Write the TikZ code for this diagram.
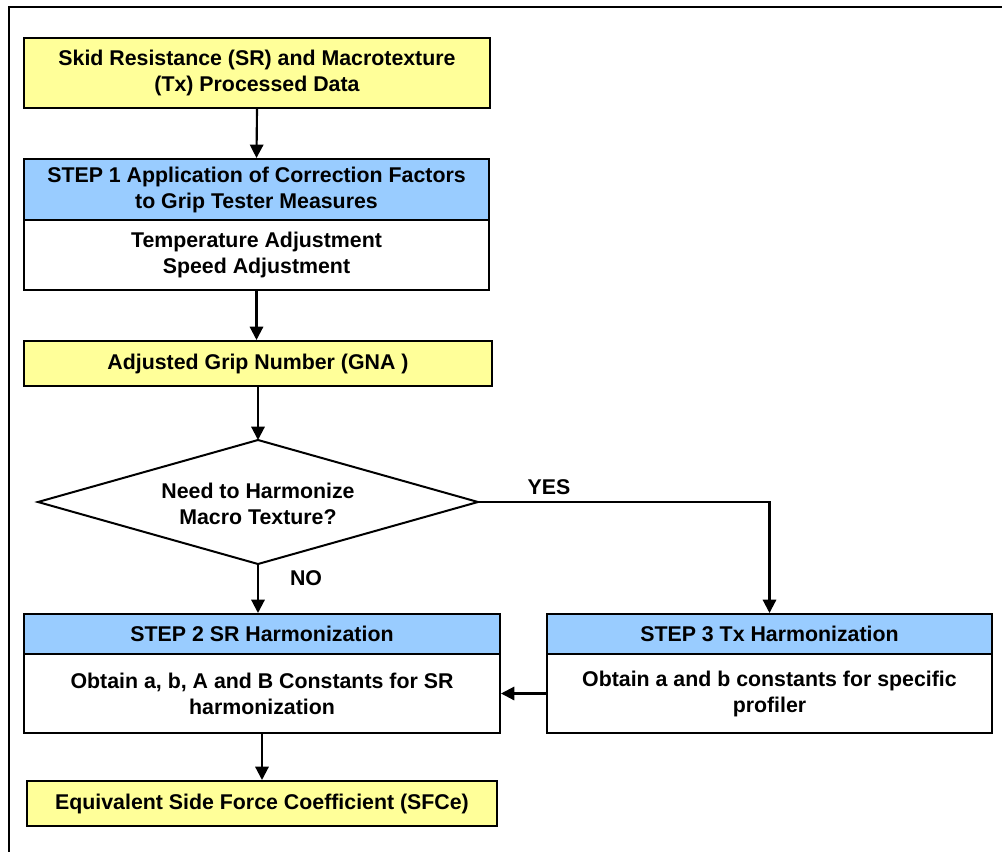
\documentclass[tikz,border=0pt]{standalone}
\usepackage{fontspec}
\setmainfont{Liberation Sans}
\usetikzlibrary{shapes.geometric,arrows.meta}
\definecolor{boxyellow}{HTML}{FFFF99}
\definecolor{boxblue}{HTML}{99CCFF}
\tikzset{
  txt/.style={font=\bfseries\fontsize{16pt}{19.5pt}\selectfont, align=center},
  yellowbox/.style={txt, draw=black, line width=1.5pt, fill=boxyellow, inner sep=0pt},
  headbox/.style={txt, draw=black, line width=1.5pt, fill=boxblue, inner sep=0pt},
  bodybox/.style={txt, draw=black, line width=1.5pt, fill=white, inner sep=0pt},
  decisionline/.style={draw=black, line width=1.5pt, fill=white, line join=miter},
  conn/.style={line width=1.6pt, -{Triangle[length=10pt,width=10pt]}},
  lbl/.style={txt, inner sep=0pt}
}
\begin{document}
\begin{tikzpicture}[x=0.75pt,y=-0.75pt]
\useasboundingbox (0,0) rectangle (1002,852);
\fill[white] (0,0) rectangle (1002,852);
% frame
\draw[line width=1.8pt] (9,853) -- (9,7) -- (1003,7);

\node[yellowbox, minimum width=349.5pt, minimum height=52.5pt] (top) at (257,73)
  {Skid Resistance (SR) and Macrotexture\\(Tx) Processed Data};

\node[headbox, minimum width=348.75pt, minimum height=45.75pt] (s1h) at (256.5,189.5)
  {STEP 1 Application of Correction Factors\\to Grip Tester Measures};
\node[bodybox, minimum width=348.75pt, minimum height=52.5pt] (s1b) at (256.5,255)
  {Temperature Adjustment\\Speed Adjustment};

\node[yellowbox, minimum width=351pt, minimum height=33.75pt] (gna) at (258,363.5)
  {Adjusted Grip Number (GNA )};

% decision diamond
\coordinate (dN) at (258,440);
\coordinate (dW) at (38,502);
\coordinate (dE) at (478,502);
\coordinate (dS) at (258,564);
\draw[decisionline] (dN) -- (dE) -- (dS) -- (dW) -- cycle;
\node[lbl] (dia) at (258,504) {Need to Harmonize\\Macro Texture?};

\node[headbox, minimum width=357pt, minimum height=30pt] (s2h) at (262,634)
  {STEP 2 SR Harmonization};
\node[bodybox, minimum width=357pt, minimum height=59.25pt] (s2b) at (262,693.5)
  {Obtain a, b, A and B Constants for SR\\harmonization};

\node[headbox, minimum width=333.75pt, minimum height=30pt] (s3h) at (769.5,634)
  {STEP 3 Tx Harmonization};
\node[bodybox, minimum width=333.75pt, minimum height=59.25pt] (s3b) at (769.5,693.5)
  {Obtain a and b constants for specific\\profiler};

\node[yellowbox, minimum width=352.5pt, minimum height=33.75pt] (sfc) at (262,803.5)
  {Equivalent Side Force Coefficient (SFCe)};

\node[lbl] (yes) at (549,487) {YES};
\node[lbl] (no) at (306,578) {NO};

% connectors
\draw[conn] (top.south) -- (s1h.north);
\draw[conn] (s1b.south) -- (s1b.south |- gna.north);
\draw[conn] (gna.south) -- (dN);
\draw[conn] (dS) -- (dS |- s2h.north);
\draw[conn] (dE) -| (s3h.north);
\draw[conn] (s3b.west) -- (s2b.east);
\draw[conn] (s2b.south) -- (sfc.north);
\end{tikzpicture}
\end{document}
